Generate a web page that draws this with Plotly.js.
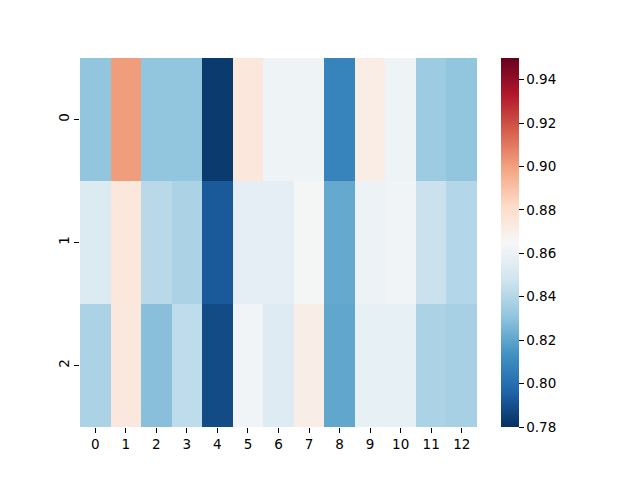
<!DOCTYPE html>
<html>
<head>
<meta charset="utf-8">
<script src="https://cdn.plot.ly/plotly-3.0.1.min.js"></script>
<style>html,body{margin:0;padding:0;background:#fff;}#chart{width:640px;height:480px;}</style>
</head>
<body>
<div id="chart"></div>
<script>
var colLabels = [0,1,2,3,4,5,6,7,8,9,10,11,12];
var rowLabels = [0,1,2];
var row0 = [0.831, 0.901, 0.831, 0.831, 0.783, 0.875, 0.861, 0.861, 0.808, 0.871, 0.861, 0.834, 0.831];
var row1 = [0.853, 0.875, 0.8415, 0.838, 0.793, 0.8565, 0.8565, 0.8637, 0.8215, 0.860, 0.8623, 0.8464, 0.840];
var row2 = [0.838, 0.874, 0.829, 0.843, 0.7885, 0.862, 0.854, 0.8705, 0.8205, 0.858, 0.858, 0.838, 0.837];
var cbTicks = [0.78, 0.80, 0.82, 0.84, 0.86, 0.88, 0.90, 0.92, 0.94];

var rdbuR = ['#053061','#2166ac','#4393c3','#92c5de','#d1e5f0','#f7f7f7','#fddbc7','#f4a582','#d6604d','#b2182b','#67001f'];
var colorscale = rdbuR.map(function(c,i){return [i/(rdbuR.length-1), c];});

var trace = {
  type: 'heatmap',
  z: [row0, row1, row2],
  x: colLabels,
  y: rowLabels,
  zmin: 0.78,
  zmax: 0.95,
  colorscale: colorscale,
  xgap: 0, ygap: 0,
  colorbar: {
    x: 1.0605, xanchor: 'left', xref: 'paper',
    y: 0.5, yanchor: 'middle',
    len: 1, lenmode: 'fraction',
    thickness: 18, thicknessmode: 'pixels',
    outlinewidth: 0,
    tickvals: cbTicks,
    ticktext: cbTicks.map(function(v){return v.toFixed(2);}),
    ticks: 'outside', ticklen: 5, tickwidth: 1, tickcolor: '#000',
    tickfont: {family: 'DejaVu Sans', size: 13.5, color: '#000'},
    xpad: 0, ypad: 0
  }
};

var layout = {
  width: 640, height: 480,
  margin: {l: 80, r: 163, t: 58, b: 53},
  paper_bgcolor: '#fff', plot_bgcolor: '#fff',
  font: {family: 'DejaVu Sans', size: 13.5, color: '#000'},
  xaxis: {
    range: [-0.5, 12.5],
    tickvals: colLabels, ticktext: colLabels.map(String),
    ticks: 'outside', ticklen: 5, tickwidth: 1, tickcolor: '#000',
    showgrid: false, zeroline: false, showline: false,
    tickfont: {family: 'DejaVu Sans', size: 13.5, color: '#000'}
  },
  yaxis: {
    range: [2.5, -0.5],
    tickvals: rowLabels, ticktext: rowLabels.map(String),
    tickangle: -90,
    ticks: 'outside', ticklen: 5, tickwidth: 1, tickcolor: '#000',
    showgrid: false, zeroline: false, showline: false,
    tickfont: {family: 'DejaVu Sans', size: 13.5, color: '#000'}
  }
};

Plotly.newPlot('chart', [trace], layout, {displayModeBar: false, staticPlot: true});
</script>
</body>
</html>
